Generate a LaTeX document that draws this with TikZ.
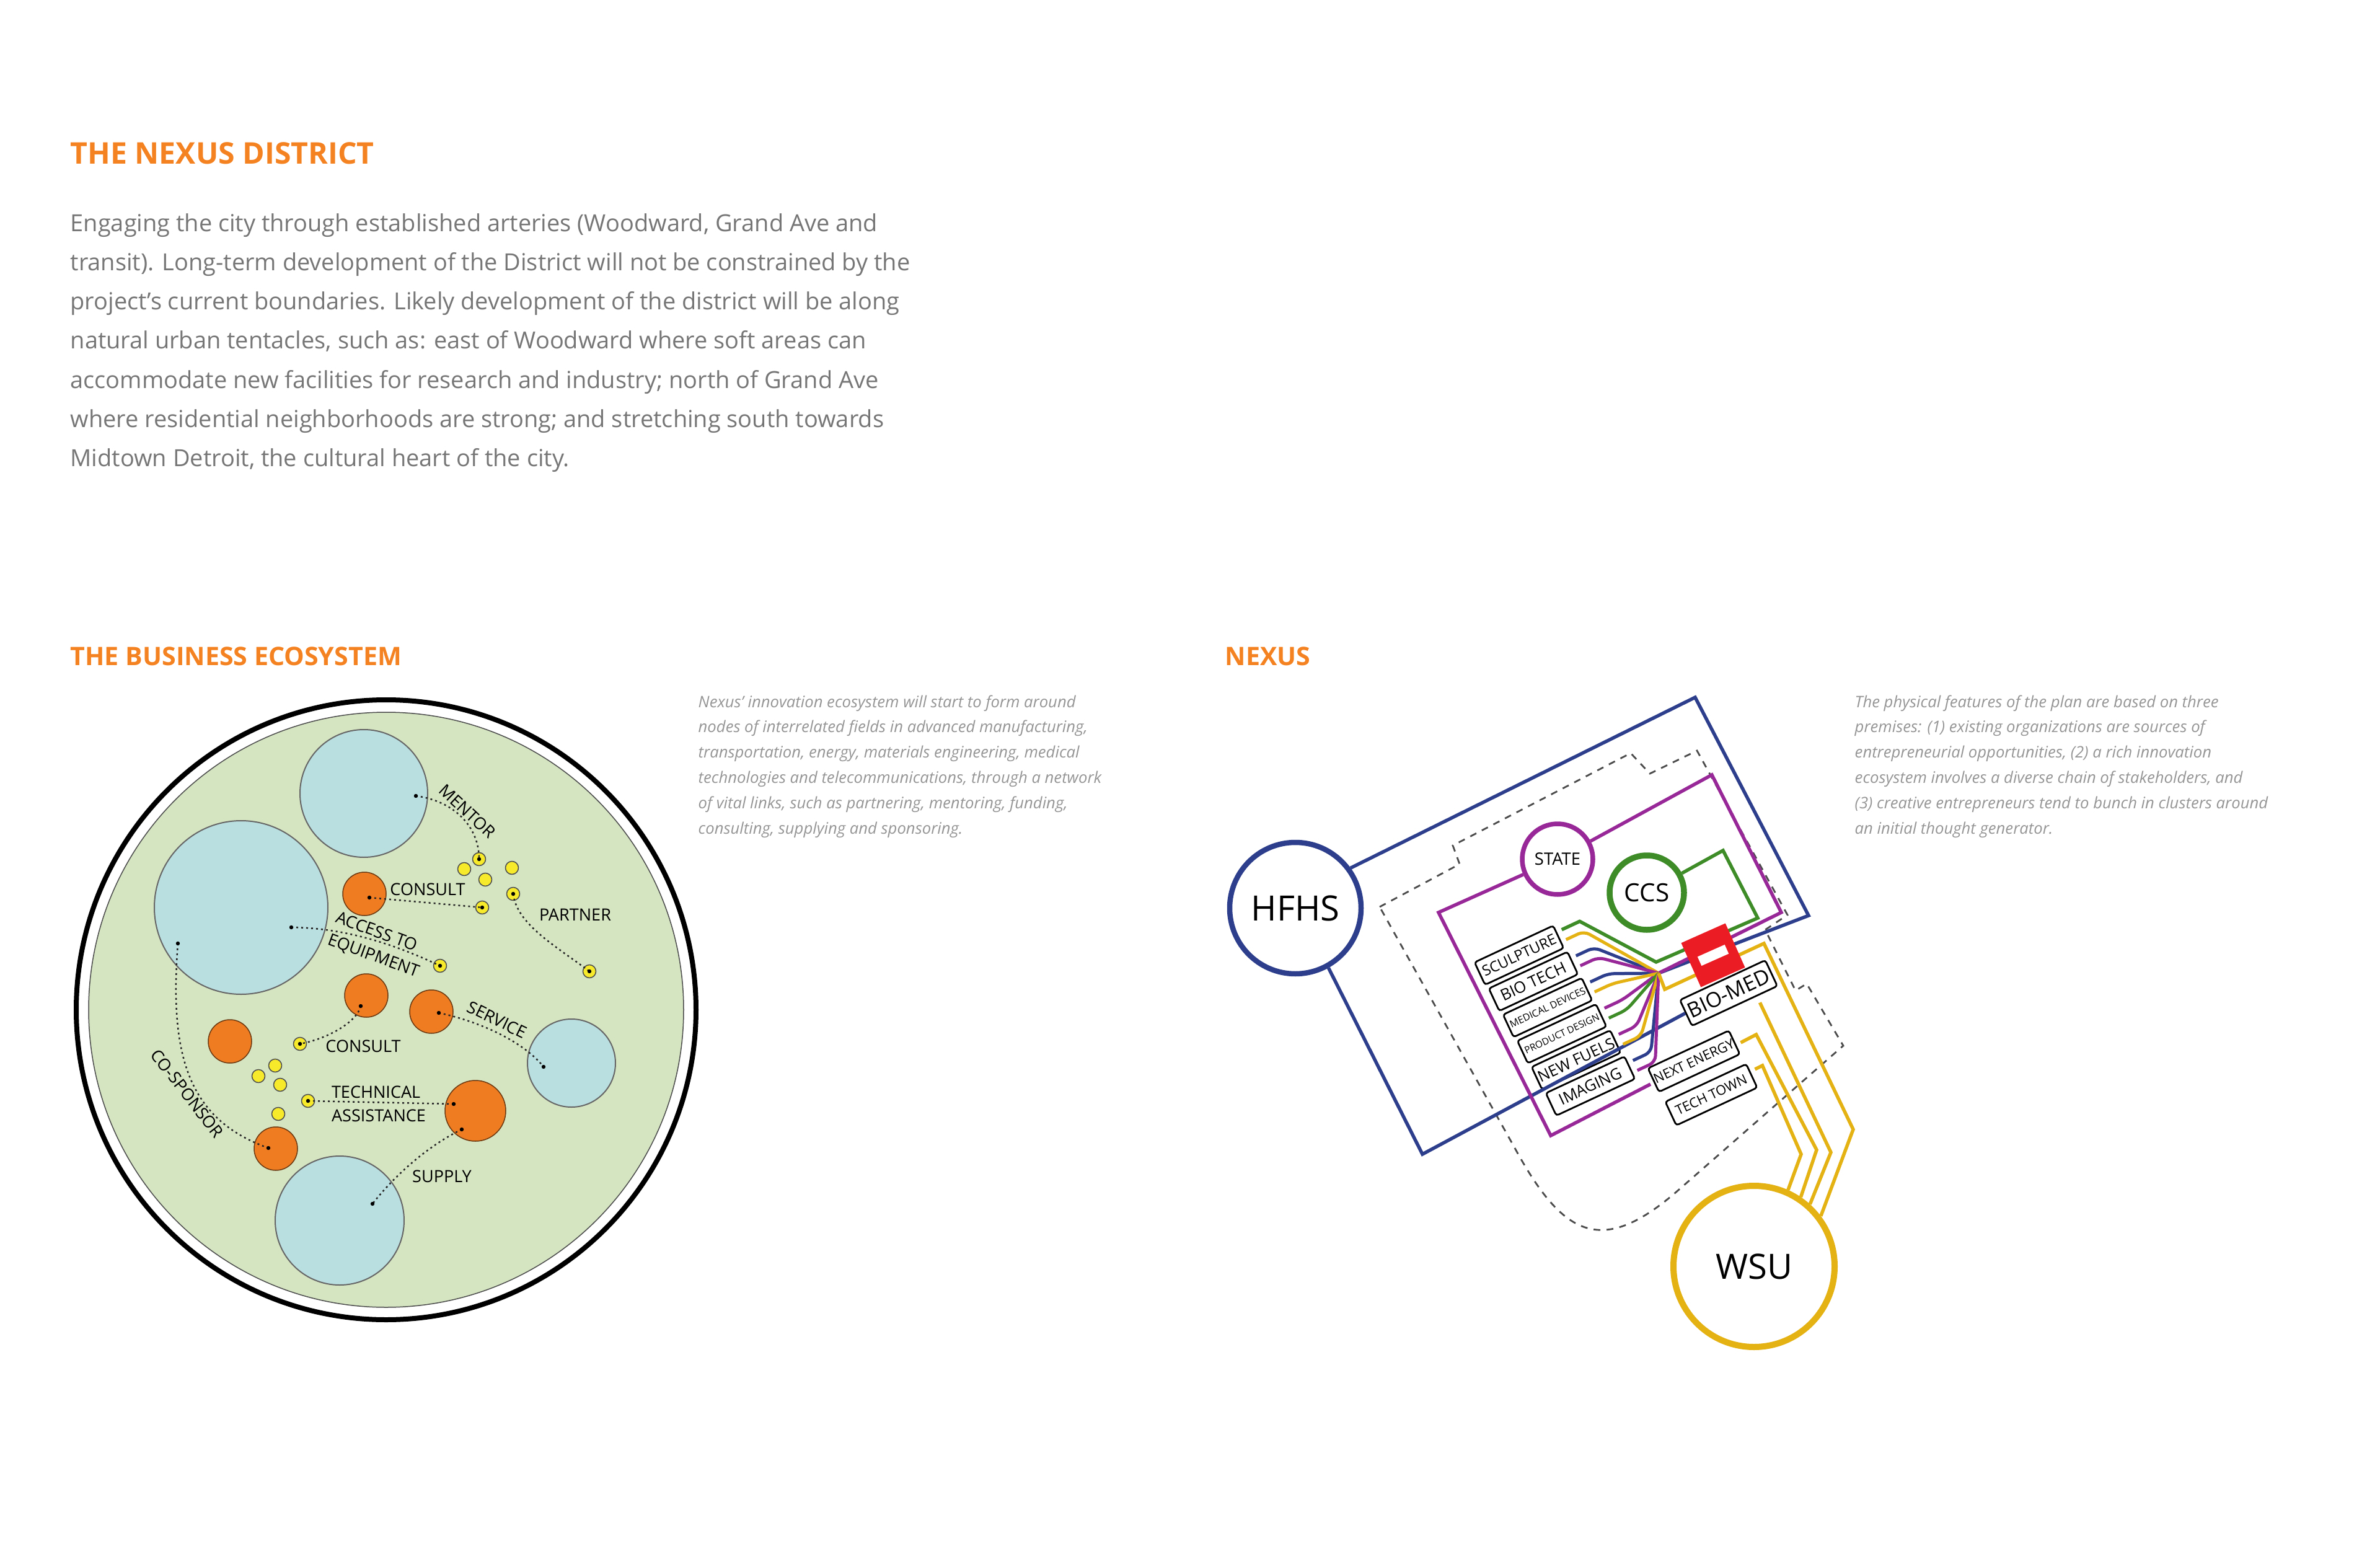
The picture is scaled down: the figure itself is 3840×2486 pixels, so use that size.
\documentclass[tikz,border=0pt]{standalone}
\usepackage{fontspec}
\setmainfont{Open Sans}
\usetikzlibrary{calc}

\definecolor{headorange}{RGB}{245,130,32}
\definecolor{bodygray}{RGB}{118,118,118}
\definecolor{notegray}{RGB}{150,150,150}
\definecolor{ecogreen}{RGB}{213,229,194}
\definecolor{poolblue}{RGB}{186,223,225}
\definecolor{firmorange}{RGB}{240,124,34}
\definecolor{linkyellow}{RGB}{246,234,42}
\definecolor{nexnavy}{RGB}{44,62,140}
\definecolor{nexpurple}{RGB}{152,40,152}
\definecolor{nexgreen}{RGB}{62,140,40}
\definecolor{nexgold}{RGB}{228,178,18}
\definecolor{nexred}{RGB}{236,28,36}

\tikzset{
  heading/.style={anchor=base west, inner sep=0pt, text=headorange, font=\bfseries\fontsize{11.7}{13}\selectfont},
  bodyline/.style={anchor=base west, inner sep=0pt, text=bodygray, font=\fontsize{10.8}{12}\selectfont},
  noteline/.style={anchor=base west, inner sep=0pt, text=notegray, font=\itshape\fontsize{7.3}{8}\selectfont},
  pool/.style={circle, draw=black!60, line width=0.2mm, fill=poolblue, inner sep=0pt},
  firm/.style={circle, draw=black!55!firmorange, line width=0.15mm, fill=firmorange, inner sep=0pt},
  link/.style={circle, draw=black!70, line width=0.15mm, fill=linkyellow, inner sep=0pt, minimum size=2.1mm},
  tie/.style={line width=0.25mm, dash pattern=on 0.3mm off 0.5mm, black!85},
  tielabel/.style={inner sep=0pt, font=\fontsize{7.7}{10.8}\selectfont},
  hub/.style={circle, fill=white, inner sep=0pt},
  tag/.style={draw, rounded corners=0.4mm, line width=0.28mm, fill=white, rotate=25,
    minimum width=14mm, minimum height=4mm, inner sep=0pt},
  route/.style={line width=0.55mm, line join=miter},
  strand/.style={line width=0.5mm, rounded corners=1mm},
  fence/.style={line width=0.28mm, black!70, dash pattern=on 1.1mm off 1mm},
}

\begin{document}
\begin{tikzpicture}[x=0.1mm, y=-0.1mm]
  \fill[white] (0,0) rectangle (3840,2486);
  \useasboundingbox (0,0) rectangle (3840,2486);

  % text
  \node[heading, font=\bfseries\fontsize{13.7}{16}\selectfont] (title) at (113,265) {THE NEXUS DISTRICT};
  \foreach \txt [count=\k] in {{Engaging the city through established arteries (Woodward, Grand Ave and},
      {transit). Long-term development of the District will not be constrained by the},
      {project’s current boundaries. Likely development of the district will be along},
      {natural urban tentacles, such as: east of Woodward where soft areas can},
      {accommodate new facilities for research and industry; north of Grand Ave},
      {where residential neighborhoods are strong; and stretching south towards},
      {Midtown Detroit, the cultural heart of the city.}}
    \node[bodyline] (intro\k) at (113, {373+63.3*(\k-1)}) {\txt};

  \node[heading] (ecohead) at (113,1073) {THE BUSINESS ECOSYSTEM};
  \node[heading] (nexhead) at (1976,1073) {NEXUS};

  \foreach \txt [count=\k] in {{Nexus’ innovation ecosystem will start to form around},
      {nodes of interrelated fields in advanced manufacturing,},
      {transportation, energy, materials engineering, medical},
      {technologies and telecommunications, through a network},
      {of vital links, such as partnering, mentoring, funding,},
      {consulting, supplying and sponsoring.}}
    \node[noteline] (econote\k) at (1126, {1141+40.8*(\k-1)}) {\txt};
  \foreach \txt [count=\k] in {{The physical features of the plan are based on three},
      {premises: (1) existing organizations are sources of},
      {entrepreneurial opportunities, (2) a rich innovation},
      {ecosystem involves a diverse chain of stakeholders, and},
      {(3) creative entrepreneurs tend to bunch in clusters around},
      {an initial thought generator.}}
    \node[noteline] (nexnote\k) at (2992, {1141+40.8*(\k-1)}) {\txt};

  % business ecosystem
  \node[circle, draw, line width=0.8mm, minimum size=100mm, inner sep=0pt] (rim) at (623,1629) {};
  \node[circle, draw=black!70, line width=0.15mm, fill=ecogreen, minimum size=96mm, inner sep=0pt] (field) at (rim) {};

  \foreach \nm/\px/\py/\dia in {mentorpool/587/1280/20.6, equippool/389/1464/28,
      servicepool/922/1715/14.2, supplypool/548/1969/20.8}
    \node[pool, minimum size=\dia mm] (\nm) at (\px,\py) {};
  \foreach \nm/\px/\py/\dia in {firm1/588/1442/7, firm2/591/1606/7, firm3/696/1632/7,
      firm4/371/1680/7, firm5/445/1853/7, firm6/767/1792/9.8}
    \node[firm, minimum size=\dia mm] (\nm) at (\px,\py) {};
  \foreach \k/\px/\py in {1/773/1386, 2/749/1402, 3/783/1419, 4/826/1400, 5/828/1442,
      6/778/1464, 7/710/1558, 8/951/1567, 9/484/1684, 10/444/1719, 11/417/1736,
      12/452/1750, 13/449/1797, 14/497/1776}
    \node[link] (link\k) at (\px,\py) {};

  \coordinate (mentorA) at (671,1284);
  \coordinate (consultA) at (596,1448);
  \coordinate (equipA) at (470,1496);
  \coordinate (consultB) at (582,1623);
  \coordinate (serviceA) at (708,1634);
  \coordinate (serviceB) at (877,1721);
  \coordinate (techA) at (732,1781);
  \coordinate (supplyA) at (745,1822);
  \coordinate (supplyB) at (601,1942);
  \coordinate (sponsorA) at (287,1522);
  \coordinate (sponsorB) at (433,1852);

  \draw[tie] (mentorA) .. controls (732,1292) and (773,1333) .. (link1.center);
  \draw[tie] (consultA) -- (link6.center);
  \draw[tie] (link5.center) .. controls (834,1491) and (895,1525) .. (link8.center);
  \draw[tie] (equipA) .. controls (560,1497) and (640,1525) .. (link7.center);
  \draw[tie] (consultB) .. controls (576,1649) and (528,1676) .. (link9.center);
  \draw[tie] (serviceA) .. controls (779,1649) and (847,1683) .. (serviceB);
  \draw[tie] (techA) -- (link14.center);
  \draw[tie] (supplyA) .. controls (691,1848) and (637,1896) .. (supplyB);
  \draw[tie] (sponsorA) .. controls (273,1704) and (304,1806) .. (sponsorB);
  \foreach \p in {mentorA, consultA, equipA, consultB, serviceA, serviceB, techA, supplyA,
      supplyB, sponsorA, sponsorB, link1, link5, link6, link7, link8, link9, link14}
    \fill (\p) circle[radius=0.32mm];

  \node[tielabel, rotate=-43] (mentorlbl) at (754,1309) {MENTOR};
  \node[tielabel] (consultlbl) at (690,1435) {CONSULT};
  \node[tielabel] (partnerlbl) at (928,1476) {PARTNER};
  \node[tielabel, rotate=-20, align=left] (equiplbl) at (609,1525) {ACCESS TO\\EQUIPMENT};
  \node[tielabel] (consultlbl2) at (586,1688) {CONSULT};
  \node[tielabel, rotate=-26] (servicelbl) at (802,1645) {SERVICE};
  \node[tielabel, align=left] (techlbl) at (611,1781) {TECHNICAL\\ASSISTANCE};
  \node[tielabel] (supplylbl) at (713,1898) {SUPPLY};
  \node[tielabel, rotate=-52] (sponsorlbl) at (302,1764) {CO-SPONSOR};

  % nexus
  \draw[fence] (2226,1463) -- (2355,1394) -- (2344,1364) -- (2631,1215) -- (2662,1248)
    -- (2738,1211) -- (2884,1476) -- (2848,1500) -- (2897,1598) -- (2915,1587)
    -- (2974,1687) -- (2709,1919) .. controls (2585,2028) and (2523,1997) .. (2444,1852) -- cycle;

  \node[hub, draw=nexnavy, line width=0.85mm, minimum size=21.2mm, font=\fontsize{16}{18}\selectfont] (hfhs) at (2090,1465) {HFHS};
  \node[hub, draw=nexpurple, line width=0.75mm, minimum size=11.4mm, font=\fontsize{7.8}{9}\selectfont] (state) at (2513,1386) {STATE};
  \node[hub, draw=nexgreen, line width=0.95mm, minimum size=12mm, font=\fontsize{11.5}{13}\selectfont] (ccs) at (2657,1440) {CCS};
  \node[hub, draw=nexgold, line width=1mm, minimum size=26mm, font=\fontsize{16}{18}\selectfont] (wsu) at (2830,2043) {WSU};

  \foreach \i/\lbl/\sz in {0/SCULPTURE/6.7, 1/BIO TECH/7.3, 2/MEDICAL DEVICES/4.5,
      3/PRODUCT DESIGN/4.4, 4/NEW FUELS/7.1, 5/IMAGING/7.2}
    \node[tag, font=\fontsize{\sz}{\sz}\selectfont] (tag\i) at ({2451+23*\i},{1541+42.2*\i}) {\lbl};
  \node[tag, minimum width=15.2mm, minimum height=4.6mm, font=\fontsize{9.6}{10}\selectfont] (biomed) at (2789,1602) {BIO-MED};
  \node[tag, minimum width=14.4mm, minimum height=4.2mm, font=\fontsize{6.2}{6}\selectfont] (nextenergy) at (2733,1712) {NEXT ENERGY};
  \node[tag, minimum width=14.4mm, minimum height=4.2mm, font=\fontsize{6.2}{6}\selectfont] (techtown) at (2761,1766) {TECH TOWN};

  \coordinate (fan) at (2676,1570);
  \coordinate (vee) at (2672,1552);

  \draw[route, nexnavy] (hfhs.36) -- (2735,1125) -- (2918,1477) -- (fan);
  \draw[route, nexnavy] (hfhs.-61) -- (2295,1862) -- (biomed.west);
  \draw[route, nexpurple] (2663,1749) -- (2502,1832) -- (2321,1472) -- (state);
  \draw[route, nexpurple] (state) -- (2762,1250) -- (2874,1472) -- (fan);
  \draw[route, nexgreen] ([shift={(4,-11)}]tag0.east) -- ++(29,-13.5) -- (vee)
    -- (2836,1481) -- (2780,1372) -- (ccs);

  \foreach \i/\col in {1/nexnavy, 2/nexnavy, 3/nexpurple, 4/nexpurple, 5/nexnavy}
    \draw[strand, draw=\col] ([shift={(4,-11)}]tag\i.east) -- ++(29,-13.5) -- (fan);
  \foreach \i/\col in {0/nexgold, 1/nexpurple, 2/nexgold, 3/nexgreen, 4/nexgold, 5/nexpurple}
    \draw[strand, draw=\col] ([shift={(11,5)}]tag\i.east) -- ++(29,-13.5) -- (fan);

  \draw[route, nexgold] (fan) -- (2686,1596) -- (2846,1522) -- (2990,1822) -- (wsu.37);
  \draw[route, nexgold] ([shift={(-30,26)}]biomed.south east) -- (2954,1859) -- (wsu.48);
  \draw[route, nexgold] ([shift={(9,1)}]nextenergy.east) -- ++(25,-13) -- (2931,1855) -- (wsu.56);
  \draw[route, nexgold] ([shift={(4,-10)}]techtown.east) -- ++(12,-6) -- (2906,1862) -- (wsu.66);

  \node[fill=nexred, rotate=24, minimum size=7.8mm, inner sep=0pt] (redbox) at (2764,1541) {};
  \node[fill=white, rotate=24, minimum width=4.8mm, minimum height=1.6mm, inner sep=0pt] (redbar) at (redbox) {};
\end{tikzpicture}
\end{document}
